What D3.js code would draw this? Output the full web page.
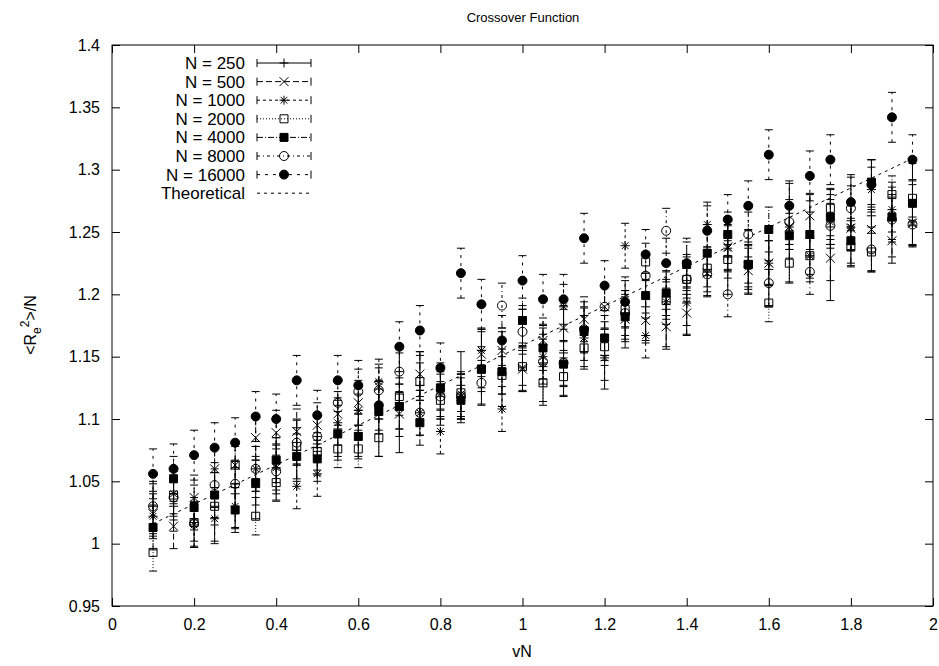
<!DOCTYPE html>
<html><head><meta charset="utf-8">
<script src="https://cdn.jsdelivr.net/npm/d3@7"></script>
<style>body{margin:0;background:#fff} text{font-family:"Liberation Sans",Arial,Helvetica,sans-serif;fill:#000}</style>
</head><body><svg id="c" width="939" height="666"></svg>
<script>
// ---- data ----
const vN = [0.10,0.15,0.20,0.25,0.30,0.35,0.40,0.45,0.50,0.55,0.60,0.65,0.70,0.75,0.80,0.85,0.90,0.95,1.00,
            1.05,1.10,1.15,1.20,1.25,1.30,1.35,1.40,1.45,1.50,1.55,1.60,1.65,1.70,1.75,1.80,1.85,1.90,1.95];
const n250  = [1.030,1.030,1.017,1.030,1.040,1.045,1.060,1.075, 1.080,1.092,1.095,1.100,1.113,1.127,1.120,1.127,
               1.142,1.140,1.155,1.142,1.153,1.167,1.151,1.184, 1.190,1.188,1.200,1.220,1.230,1.226,1.220,1.249,
               1.245,1.240,1.259,1.263,1.260,1.272];
const err250 = [0.020,0.020,0.020,0.030,0.027,0.025,0.025,0.025,0.025,0.025,0.025,0.030,0.040,0.027,0.025,0.027,
                0.030,0.030,0.033,0.031,0.035,0.027,0.027,0.027,0.027,0.030,0.032,0.018,0.030,0.026,0.030,0.040,
                0.035,0.045,0.037,0.045,0.030,0.033];
const n500  = [1.024,1.014,1.037,1.060,1.063,1.085,1.089,1.090, 1.095,1.104,1.113,1.126,1.104,1.136,1.120,1.118,
               1.152,1.155,1.140,1.163,1.173,1.180,1.190,1.180, 1.179,1.174,1.185,1.217,1.238,1.219,1.225,1.254,
               1.263,1.229,1.253,1.252,1.243,1.257];
const n1000 = [1.022,1.040,1.015,1.020,1.030,1.060,1.061,1.046, 1.056,1.097,1.107,1.130,1.110,1.105,1.090,1.120,
               1.155,1.108,1.141,1.150,1.190,1.165,1.149,1.239, 1.167,1.194,1.193,1.256,1.237,1.222,1.225,1.254,
               1.231,1.258,1.254,1.284,1.268,1.258];
const n2000 = [0.993,1.039,1.017,1.030,1.063,1.022,1.049,1.078, 1.074,1.076,1.076,1.085,1.118,1.130,1.115,1.121,
               1.140,1.135,1.142,1.129,1.134,1.157,1.158,1.188, 1.226,1.195,1.212,1.221,1.228,1.224,1.193,1.225,
               1.231,1.269,1.238,1.234,1.280,1.277];
const n4000 = [1.013,1.052,1.029,1.039,1.027,1.049,1.067,1.070, 1.068,1.088,1.086,1.106,1.110,1.097,1.125,1.115,
               1.140,1.138,1.179,1.157,1.144,1.171,1.165,1.182, 1.199,1.201,1.224,1.233,1.248,1.224,1.252,1.247,
               1.248,1.262,1.243,1.290,1.262,1.273];
const n8000 = [1.030,1.037,1.016,1.047,1.048,1.060,1.058,1.081, 1.086,1.113,1.122,1.123,1.138,1.105,1.118,1.118,
               1.129,1.191,1.170,1.146,1.145,1.172,1.190,1.185, 1.215,1.251,1.212,1.216,1.200,1.248,1.209,1.258,
               1.218,1.255,1.269,1.236,1.260,1.256];
const n16000= [1.056,1.060,1.071,1.077,1.081,1.102,1.100,1.131, 1.103,1.131,1.127,1.111,1.158,1.171,1.141,1.217,
               1.192,1.163,1.211,1.196,1.196,1.245,1.207,1.194, 1.232,1.225,1.225,1.251,1.260,1.271,1.312,1.271,
               1.295,1.308,1.274,1.288,1.342,1.308];
const errConst = [0.018,0.018,0.015,0.018,0.018,0.020]; // N=500..16000
const seriesNames = ["N = 250","N = 500","N = 1000","N = 2000","N = 4000","N = 8000","N = 16000"];
const theoX = [0.10,0.50,1.00,1.50,1.95];
const theoY = [1.016,1.079,1.159,1.238,1.309];
const xTicks = [0,0.2,0.4,0.6,0.8,1,1.2,1.4,1.6,1.8,2];
const yTicks = [0.95,1,1.05,1.1,1.15,1.2,1.25,1.3,1.35,1.4];

// ---- styles ----
const markers = ["plus","x","star","sq","fsq","circ","fcirc"];
const dashes  = [null,"6,3","3,3","1,2","6,2,1,2","3,3,1,3","3,5"];

const svg = d3.select("#c");
const L=112,R=933,T=45,B=606;
const x = d3.scaleLinear().domain([0,2]).range([L,R]);
const y = d3.scaleLinear().domain([0.95,1.4]).range([B,T]);
const fmt = d=>String(+d.toFixed(2));

function axis(g,a){ g.call(a); g.select(".domain").remove(); g.selectAll("line").attr("stroke","#000");
  g.selectAll("text").attr("font-size",16).attr("font-family",'"Liberation Sans",Arial,sans-serif').attr("fill","#000"); }
svg.append("g").attr("transform",`translate(0,${B})`).call(g=>axis(g,d3.axisBottom(x).tickValues(xTicks).tickSize(-8).tickPadding(13).tickFormat(fmt)));
svg.append("g").attr("transform",`translate(0,${T})`).call(g=>axis(g,d3.axisTop(x).tickValues(xTicks).tickSize(-8).tickFormat("")));
svg.append("g").attr("transform",`translate(${L},0)`).call(g=>axis(g,d3.axisLeft(y).tickValues(yTicks).tickSize(-8).tickPadding(12).tickFormat(fmt)));
svg.append("g").attr("transform",`translate(${R},0)`).call(g=>axis(g,d3.axisRight(y).tickValues(yTicks).tickSize(-8).tickFormat("")));
svg.append("rect").attr("x",L).attr("y",T).attr("width",R-L).attr("height",B-T).attr("fill","none").attr("stroke","#000");

function markerPath(t){
  const s=4.5;
  switch(t){
    case "plus": return `M${-s},0H${s}M0,${-s}V${s}`;
    case "x": return `M${-s},${-s}L${s},${s}M${-s},${s}L${s},${-s}`;
    case "star": return `M${-s},0H${s}M0,${-s}V${s}M${-s*.75},${-s*.75}L${s*.75},${s*.75}M${-s*.75},${s*.75}L${s*.75},${-s*.75}`;
    case "sq": case "fsq": return `M${-4},${-4}H4V4H-4Z`;
    default: return d3.path().toString();
  }
}
function drawMarker(g,t,cx,cy){
  if(t==="circ"||t==="fcirc"){
    g.append("circle").attr("cx",cx).attr("cy",cy).attr("r",4.5)
     .attr("fill",t==="fcirc"?"#000":"none").attr("stroke","#000");
  } else {
    g.append("path").attr("transform",`translate(${cx},${cy})`).attr("d",markerPath(t))
     .attr("fill",t==="fsq"?"#000":"none").attr("stroke","#000");
  }
}

const allSeries = [n250,n500,n1000,n2000,n4000,n8000,n16000];
const plot = svg.append("g");
allSeries.forEach((vals,si)=>{
  const g = plot.append("g");
  vals.forEach((v,i)=>{
    const e = si===0 ? err250[i] : errConst[si-1];
    const cx = x(vN[i]), y0 = y(v-e), y1 = y(v+e);
    const bar = g.append("g").attr("stroke","#000").attr("fill","none");
    bar.append("line").attr("x1",cx).attr("x2",cx).attr("y1",y0).attr("y2",y1).attr("stroke-dasharray",dashes[si]);
    bar.append("line").attr("x1",cx-4).attr("x2",cx+4).attr("y1",y0).attr("y2",y0);
    bar.append("line").attr("x1",cx-4).attr("x2",cx+4).attr("y1",y1).attr("y2",y1);
    drawMarker(g,markers[si],cx,y(v));
  });
});

// theoretical line
plot.append("path").datum(theoX.map((d,i)=>[d,theoY[i]]))
  .attr("d",d3.line().x(d=>x(d[0])).y(d=>y(d[1])))
  .attr("fill","none").attr("stroke","#000").attr("stroke-dasharray","3,4");

// legend
const leg = svg.append("g");
const names = seriesNames.concat(["Theoretical"]);
names.forEach((n,i)=>{
  const cy = 63 + i*18.6;
  leg.append("text").attr("x",245).attr("y",cy+6).attr("text-anchor","end").attr("font-size",17).text(n);
  const g = leg.append("g").attr("stroke","#000").attr("fill","none");
  if(i<7){
    g.append("line").attr("x1",257).attr("x2",311).attr("y1",cy).attr("y2",cy).attr("stroke-dasharray",dashes[i]);
    g.append("line").attr("x1",257).attr("x2",257).attr("y1",cy-4).attr("y2",cy+4);
    g.append("line").attr("x1",311).attr("x2",311).attr("y1",cy-4).attr("y2",cy+4);
    drawMarker(leg,markers[i],284,cy);
  } else {
    g.append("line").attr("x1",257).attr("x2",311).attr("y1",cy).attr("y2",cy).attr("stroke-dasharray","3,4");
  }
});

// titles
svg.append("text").attr("x",523).attr("y",22).attr("text-anchor","middle").attr("font-size",13).text("Crossover Function");
svg.append("text").attr("x",522).attr("y",657).attr("text-anchor","middle").attr("font-size",16).text("vN");
const yl = svg.append("text").attr("transform","translate(36,325) rotate(-90)").attr("text-anchor","middle").attr("font-size",16);
yl.append("tspan").text("<R");
yl.append("tspan").attr("font-size",12).attr("dy",5).text("e");
yl.append("tspan").attr("font-size",12).attr("dy",-12).text("2");
yl.append("tspan").attr("dy",7).text(">/N");
</script></body></html>
